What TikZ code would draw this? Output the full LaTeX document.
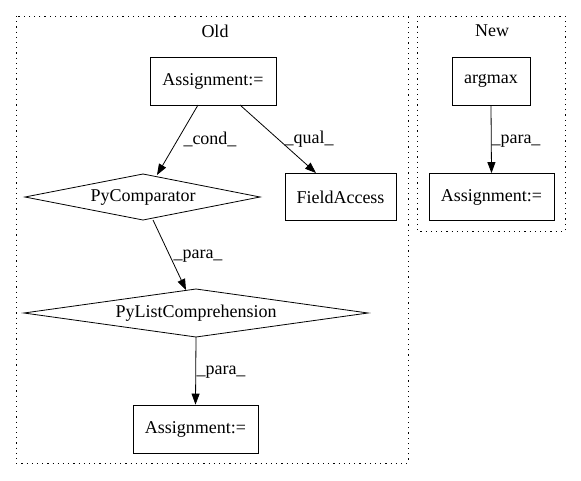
\documentclass[tikz,border=0pt]{standalone}
\usepackage{fontspec}
\setmainfont{Liberation Serif}
\usetikzlibrary{shapes.geometric,arrows.meta}
\begin{document}
\begin{tikzpicture}[x=1pt,y=-1pt,
  every node/.style={font=\fontsize{18pt}{20pt}\selectfont, inner sep=0pt},
  box/.style={draw, line width=0.8pt, rectangle, anchor=center},
  shp/.style={line width=0.8pt},
  cluster/.style={draw, line width=0.9pt, dash pattern=on 1.2pt off 4pt},
  edge/.style={draw, line width=0.8pt, -{Triangle[length=11pt,width=8pt]}},
  lab/.style={anchor=center}]
\useasboundingbox (0,0) rectangle (581,480);
\draw[cluster] (16,16) rectangle (408,463);
\draw[cluster] (417,16) rectangle (565,231);
\node[lab] (oldt) at (215,31) {Old};
\node[lab] (newt) at (492,31) {New};
\node[box, minimum width=126pt, minimum height=48pt] (a1) at (213,81) {Assignment:=};
\node[box, minimum width=111pt, minimum height=47pt] (fa) at (340.5,197) {FieldAccess};
\node[box, minimum width=125pt, minimum height=48pt] (a2) at (195.5,429) {Assignment:=};
\node[box, minimum width=78pt, minimum height=48pt] (am) at (491,81) {argmax};
\node[box, minimum width=125pt, minimum height=47pt] (a3) at (491.5,197) {Assignment:=};
\draw[shp] (25,197) -- (143,174) -- (260,197) -- (143,220) -- cycle;
\coordinate (pc) at (143,197);
\draw[shp] (24,313) -- (196,289) -- (368,313) -- (196,337) -- cycle;
\coordinate (plc) at (196,313);
\coordinate (plbot) at (196,337);
\coordinate (pcbot) at (153,220);
\coordinate (a1l) at (198,105);
\coordinate (a1r) at (240,105);
\coordinate (pcin) at (157,175);
\coordinate (fain) at (316,173);
\coordinate (plin) at (186,290);
\node[lab] (pct) at (pc) {PyComparator};
\node[lab] (plt) at (plc) {PyListComprehension};
\draw[edge] (a1l) -- (pcin);
\draw[edge] (a1r) -- (fain);
\draw[edge] (pcbot) -- (plin);
\draw[edge] (plbot) -- (a2.north);
\draw[edge] (am.south) -- (a3.north);
\node[lab] (l1) at (210,139) {\_cond\_};
\node[lab] (l2) at (309,139) {\_qual\_};
\node[lab] (l3) at (198,256) {\_para\_};
\node[lab] (l4) at (221,372) {\_para\_};
\node[lab] (l5) at (516,141) {\_para\_};
\end{tikzpicture}
\end{document}
